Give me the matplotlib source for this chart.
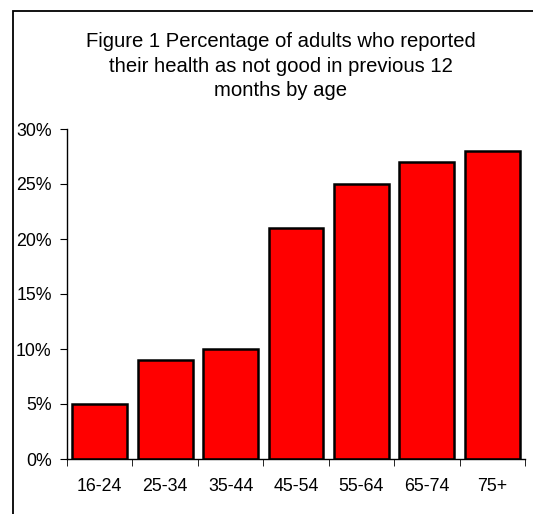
import matplotlib
matplotlib.use('Agg')
import matplotlib.pyplot as plt
from matplotlib.patches import Rectangle
from matplotlib.ticker import PercentFormatter

# Data
ages = ['16-24', '25-34', '35-44', '45-54', '55-64', '65-74', '75+']
pct = [5, 9, 10, 21, 25, 27, 28]
yticks = [0, 5, 10, 15, 20, 25, 30]

plt.rcParams['font.family'] = ['Liberation Sans', 'DejaVu Sans']

fig = plt.figure(figsize=(5.33, 5.14), dpi=100)
ax = fig.add_axes([67/533, 1 - 459/514, (525 - 67)/533, (459 - 129)/514])

# outer frame (only top and left visible in the reference)
fig.patches.append(Rectangle((13/533, -0.1), 1.2, 1 - 11/514 + 0.1,
                             transform=fig.transFigure, fill=False,
                             edgecolor='black', linewidth=1.3))

x = range(len(ages))
ax.bar(x, pct, width=0.84, color='#ff0000', edgecolor='black', linewidth=1.8)

ax.set_xlim(-0.5, len(ages) - 0.5)
ax.set_ylim(0, 30)
ax.set_yticks(yticks)
ax.yaxis.set_major_formatter(PercentFormatter(decimals=0))

# category labels centred, tick marks at category boundaries
ax.set_xticks(list(x))
ax.set_xticklabels(ages)
ax.set_xticks([i - 0.5 for i in range(len(ages) + 1)], minor=True)
ax.tick_params(axis='x', which='major', length=0, pad=14, labelsize=12.8)
ax.tick_params(axis='x', which='minor', length=5, direction='out')
ax.tick_params(axis='y', length=5, direction='out', labelsize=12.8, pad=6)

for s in ['top', 'right']:
    ax.spines[s].set_visible(False)
for s in ['left', 'bottom']:
    ax.spines[s].set_linewidth(1.0)

fig.text(281/533, 1 - 66/514,
         'Figure 1 Percentage of adults who reported\n'
         'their health as not good in previous 12\n'
         'months by age',
         ha='center', va='center', fontsize=14.6, linespacing=1.36)

fig.savefig('out.png', dpi=100)
